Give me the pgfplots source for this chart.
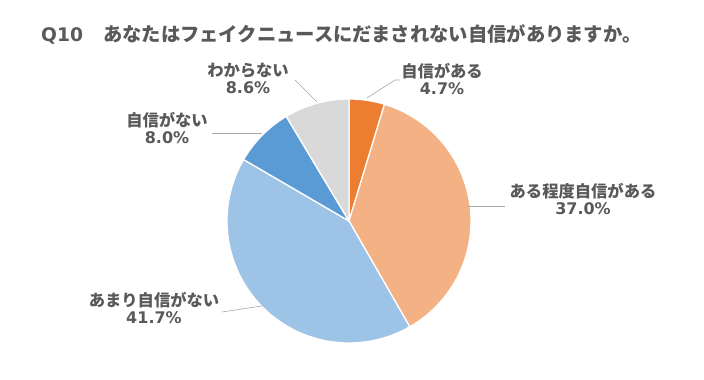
\documentclass[border=0pt]{standalone}
\usepackage{pgfplots}
\pgfplotsset{compat=1.18}
\usepackage{fontspec}
\setmainfont{Noto Sans CJK JP}
\newfontfamily\lat{DejaVu Sans}
\definecolor{txt}{HTML}{595959}
\definecolor{c1}{HTML}{ED7D31}
\definecolor{c2}{HTML}{F4B183}
\definecolor{c3}{HTML}{9DC3E6}
\definecolor{c4}{HTML}{5B9BD5}
\definecolor{c5}{HTML}{D9D9D9}
\definecolor{lead}{HTML}{A6A6A6}
% slice: start (cumulative %), value (%), colour
\newcommand{\slice}[3]{%
  \addplot[fill=#3, draw=white, line width=1.3pt, line join=round, domain=#1*3.6:(#1+#2)*3.6, samples=80, variable=\t]
    ({349+122*sin(t)},{221-122*cos(t)}) -- (axis cs:349,221) -- cycle;}
\tikzset{lab/.style={align=center, inner sep=0pt, text=txt, font=\bfseries\fontsize{16.3}{17}\selectfont}}
\begin{document}
\begin{tikzpicture}
\begin{axis}[
  width=704pt, height=380pt, scale only axis,
  xmin=0, xmax=704, ymin=0, ymax=380, y dir=reverse,
  hide axis, clip=false,
]
\path (rel axis cs:0,0) rectangle (rel axis cs:1,1);
% values: 4.7, 37.0, 41.7, 8.0, 8.6
\slice{0}{4.7}{c1}
\slice{4.7}{37.0}{c2}
\slice{41.7}{41.7}{c3}
\slice{83.4}{8.0}{c4}
\slice{91.4}{8.6}{c5}
% leader lines
\addplot[lead, line width=0.6pt] coordinates {(367,98) (395,80) (400,80)};
\addplot[lead, line width=0.6pt] coordinates {(468,206) (505,206)};
\addplot[lead, line width=0.6pt] coordinates {(222,312) (262,306)};
\addplot[lead, line width=0.6pt] coordinates {(212,133) (262,133)};
\addplot[lead, line width=0.6pt] coordinates {(295,80) (317,102)};
% labels
\node[lab] at (axis cs:442,78.5) {自信がある\\{\lat\fontsize{16}{17}\selectfont 4.7\%}};
\node[lab] at (axis cs:583,199) {ある程度自信がある\\{\lat\fontsize{16}{17}\selectfont 37.0\%}};
\node[lab] at (axis cs:154,307.5) {あまり自信がない\\{\lat\fontsize{16}{17}\selectfont 41.7\%}};
\node[lab] at (axis cs:167,128) {自信がない\\{\lat\fontsize{16}{17}\selectfont 8.0\%}};
\node[lab] at (axis cs:248,78.5) {わからない\\{\lat\fontsize{16}{17}\selectfont 8.6\%}};
% title
\node[anchor=west, inner sep=0pt, text=txt, font=\bfseries\fontsize{19.3}{20}\selectfont] at (axis cs:41,34) {{\lat\fontsize{18.7}{20}\selectfont Q10}\hspace{20pt}あなたはフェイクニュースにだまされない自信がありますか。};
\end{axis}
\end{tikzpicture}
\end{document}
